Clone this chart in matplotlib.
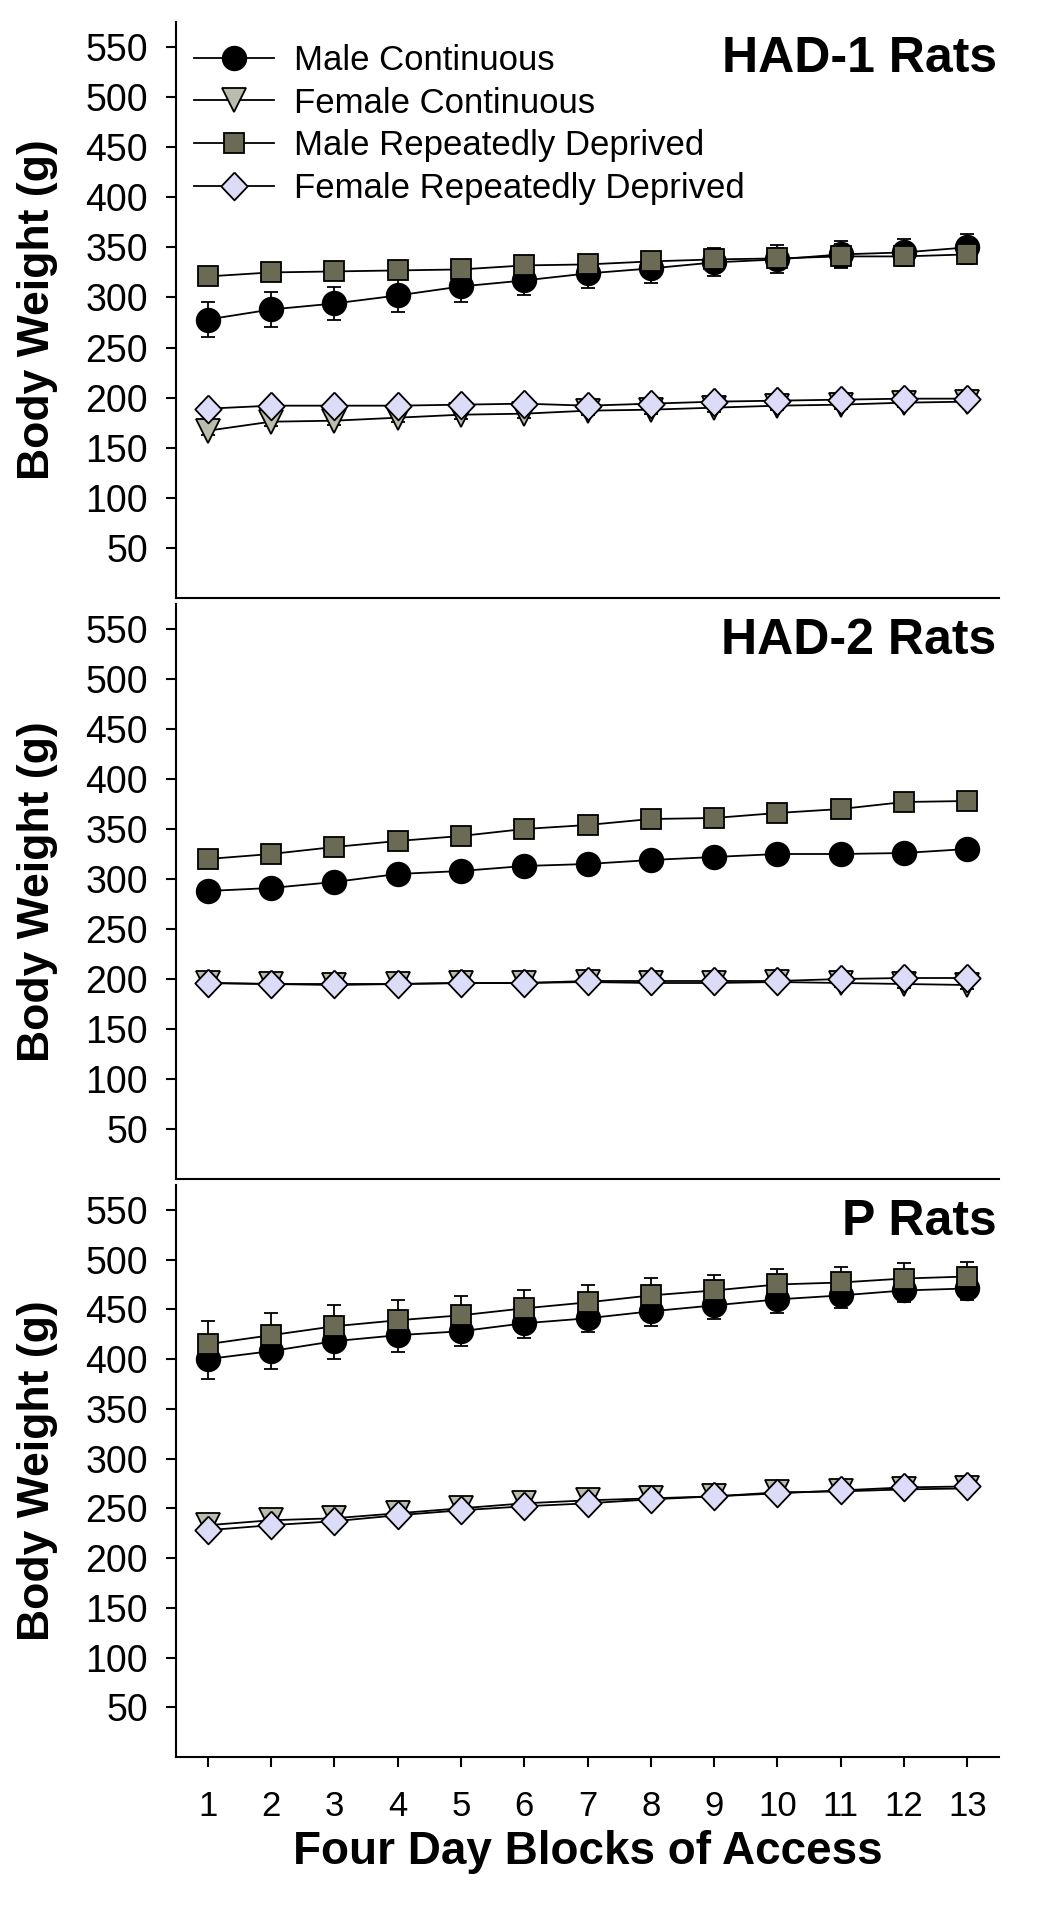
import numpy as np
import matplotlib
matplotlib.use('Agg')
import matplotlib.pyplot as plt

plt.rcParams['font.family'] = ['Liberation Sans', 'DejaVu Sans']

# x axis: four day blocks
blocks = np.arange(1, 14)

# HAD-1 rats
had1_mc = [278, 288, 294, 302, 311, 317, 324, 329, 335, 338, 343, 345, 350]
had1_mc_err = [17, 17, 16, 16, 16, 15, 15, 15, 14, 14, 13, 13, 13]
had1_fc = [167, 176, 177, 180, 183, 184, 187, 188, 190, 192, 193, 195, 196]
had1_fc_err = [4, 4, 4, 4, 4, 4, 4, 4, 4, 4, 4, 4, 4]
had1_mrd = [321, 325, 326, 327, 328, 332, 333, 336, 338, 339, 341, 341, 343]
had1_mrd_err = [6, 6, 6, 7, 7, 7, 8, 8, 9, 10, 12, 10, 10]
had1_frd = [189, 192, 192, 192, 193, 194, 192, 194, 196, 197, 198, 199, 199]
had1_frd_err = [4, 4, 4, 4, 4, 4, 4, 4, 4, 4, 4, 4, 4]

# HAD-2 rats
had2_mc = [288, 291, 297, 305, 308, 313, 315, 319, 322, 325, 325, 326, 330]
had2_mc_err = [5, 5, 5, 5, 5, 5, 5, 5, 5, 5, 5, 5, 5]
had2_fc = [196, 195, 194, 195, 196, 196, 197, 196, 196, 197, 196, 195, 194]
had2_fc_err = [4, 4, 4, 4, 4, 4, 4, 4, 4, 4, 4, 4, 4]
had2_mrd = [320, 325, 332, 338, 343, 350, 354, 360, 361, 366, 370, 377, 378]
had2_mrd_err = [6, 6, 6, 6, 6, 6, 6, 6, 6, 6, 6, 6, 6]
had2_frd = [196, 195, 195, 195, 196, 196, 198, 198, 198, 198, 200, 201, 201]
had2_frd_err = [4, 4, 4, 4, 4, 4, 4, 4, 4, 4, 4, 4, 4]

# P rats
p_mc = [400, 408, 418, 424, 428, 436, 441, 448, 454, 460, 464, 469, 471]
p_mc_err = [20, 18, 18, 17, 15, 15, 14, 15, 14, 14, 13, 12, 12]
p_fc = [233, 238, 240, 245, 250, 255, 258, 260, 262, 266, 267, 269, 270]
p_fc_err = [4, 4, 4, 4, 4, 4, 4, 4, 4, 4, 4, 4, 4]
p_mrd = [415, 424, 433, 439, 444, 451, 457, 464, 469, 475, 477, 481, 483]
p_mrd_err = [23, 22, 21, 20, 19, 18, 17, 18, 16, 16, 16, 16, 15]
p_frd = [228, 233, 237, 243, 248, 252, 255, 259, 262, 265, 268, 271, 272]
p_frd_err = [4, 4, 4, 4, 4, 4, 4, 4, 4, 4, 4, 4, 4]

panels = [
    ('HAD-1 Rats', [(had1_mc, had1_mc_err), (had1_fc, had1_fc_err),
                    (had1_mrd, had1_mrd_err), (had1_frd, had1_frd_err)]),
    ('HAD-2 Rats', [(had2_mc, had2_mc_err), (had2_fc, had2_fc_err),
                    (had2_mrd, had2_mrd_err), (had2_frd, had2_frd_err)]),
    ('P Rats', [(p_mc, p_mc_err), (p_fc, p_fc_err),
                (p_mrd, p_mrd_err), (p_frd, p_frd_err)]),
]

labels = ['Male Continuous', 'Female Continuous',
          'Male Repeatedly Deprived', 'Female Repeatedly Deprived']

diamond = [(0, 1), (0.95, 0), (0, -1), (-0.95, 0), (0, 1)]
styles = [
    dict(marker='o', markersize=17, markerfacecolor='black'),
    dict(marker='v', markersize=17, markerfacecolor='#bcbcac'),
    dict(marker='s', markersize=14.5, markerfacecolor='#6b6b55'),
    dict(marker=diamond, markersize=20, markerfacecolor='#dcdcf8'),
]

fig = plt.figure(figsize=(10.5, 19.05), dpi=100)
W, H = 1050.0, 1905.0
left, right = 176, 999
# panel pixel extents (top, bottom)
extents = [(22, 598), (604, 1179), (1185, 1757)]

for i, (title, series) in enumerate(panels):
    top, bot = extents[i]
    ax = fig.add_axes([left / W, 1 - bot / H, (right - left) / W, (bot - top) / H])
    handles = []
    for (vals, err), st, lab in zip(series, styles, labels):
        ax.errorbar(blocks, vals, yerr=err, fmt='none', ecolor='black',
                    elinewidth=1.3, capsize=5, capthick=1.3, zorder=2)
        ln, = ax.plot(blocks, vals, color='black', linewidth=1.3,
                      markeredgecolor='black', markeredgewidth=1.3,
                      label=lab, zorder=3, **st)
        handles.append(ln)

    ax.set_xlim(0.5, 13.5)
    ax.set_ylim(0, 575)
    ax.set_yticks(np.arange(50, 551, 50))
    ax.spines['top'].set_visible(False)
    ax.spines['right'].set_visible(False)
    ax.spines['left'].set_linewidth(1.5)
    ax.spines['bottom'].set_linewidth(1.5)
    ax.tick_params(axis='y', direction='out', length=7, width=1.5,
                   labelsize=27, pad=13)
    ax.set_ylabel('Body Weight (g)', fontsize=32, fontweight='bold')
    ax.yaxis.set_label_coords(-0.143, 0.5)

    ax.text(0.997, 0.975, title, transform=ax.transAxes, ha='right', va='top',
            fontsize=36, fontweight='bold')

    if i < 2:
        ax.tick_params(axis='x', bottom=False, labelbottom=False)
    else:
        ax.set_xticks(blocks)
        ax.tick_params(axis='x', direction='out', length=7, width=1.5,
                       labelsize=25, pad=17)
        ax.set_xlabel('Four Day Blocks of Access', fontsize=33,
                      fontweight='bold', labelpad=5)

    if i == 0:
        ax.legend(handles=handles, loc='upper left', frameon=False,
                  fontsize=25, bbox_to_anchor=(0.022, 0.962),
                  borderaxespad=0, borderpad=0, labelspacing=0.28,
                  handlelength=2.3, handletextpad=0.58)

fig.savefig('out.png', dpi=100)
